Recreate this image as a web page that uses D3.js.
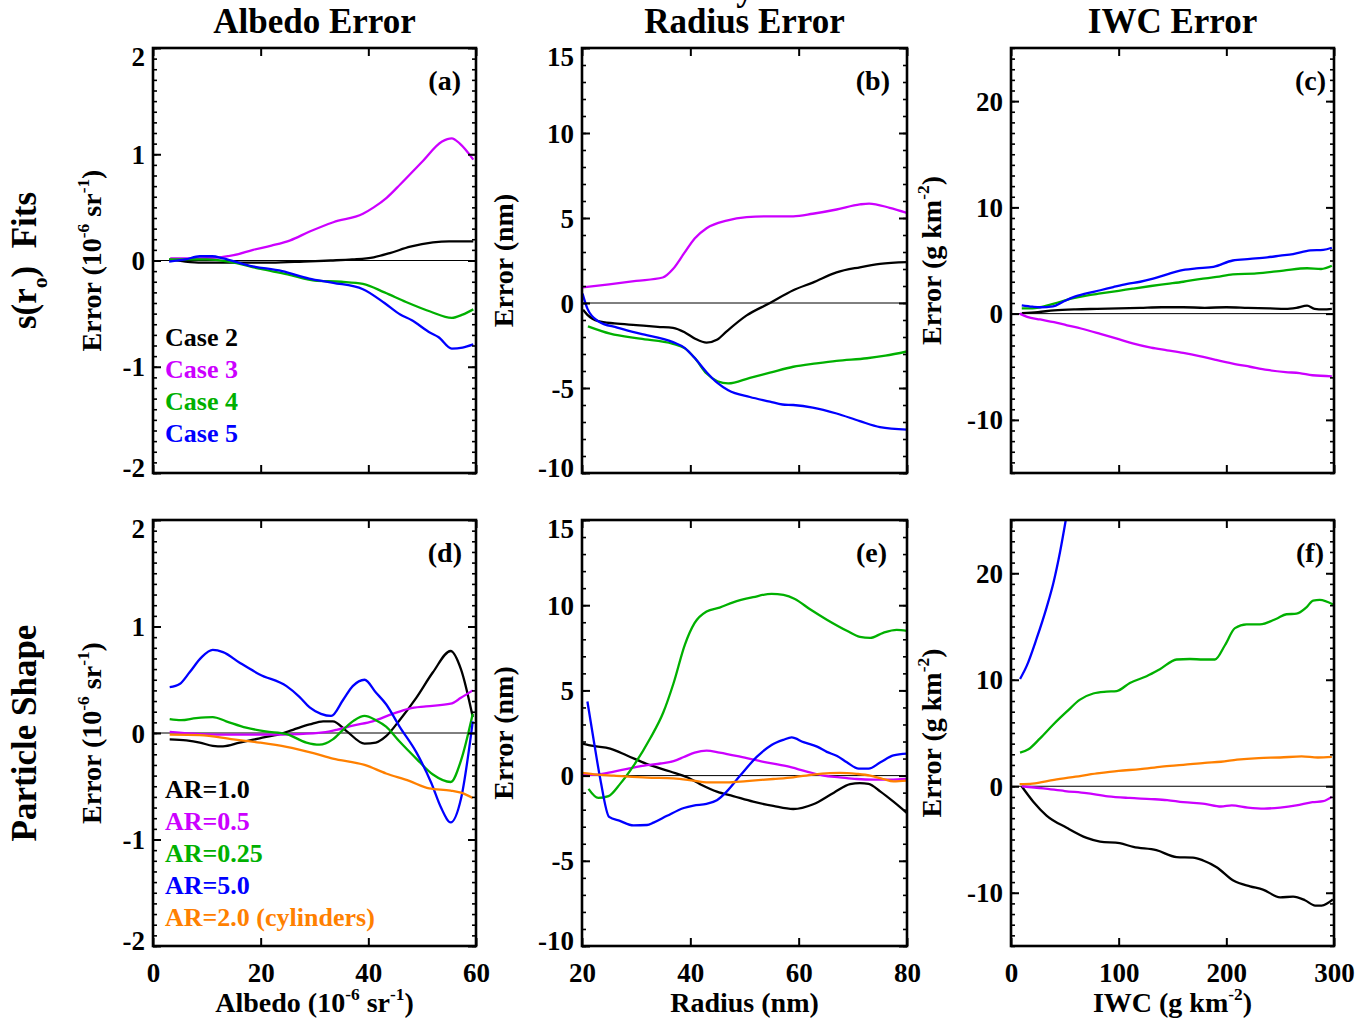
<!DOCTYPE html>
<html>
<head>
<meta charset="utf-8">
<script src="https://cdn.jsdelivr.net/npm/d3@7"></script>
<style>
  html, body { margin: 0; padding: 0; background: #fff; }
  svg { display: block; }
</style>
</head>
<body>
<div id="chart"></div>
<script>
// ---- values ----
const colTitles = ["Albedo Error", "Radius Error", "IWC Error"];
const panelTags = ["(a)", "(b)", "(c)", "(d)", "(e)", "(f)"];
const caseLabels = ["Case 2", "Case 3", "Case 4", "Case 5"];
const shapeLabels = ["AR=1.0", "AR=0.5", "AR=0.25", "AR=5.0", "AR=2.0 (cylinders)"];
const seriesColors = ["#000000", "#cc00ff", "#00b000", "#0000ff", "#ff8000"];

const xDomains = [[0, 60], [20, 80], [0, 300]];
const yDomains = [[-2, 2], [-10, 15], [-15, 25]];
const xTickValues = [[0, 20, 40, 60], [20, 40, 60, 80], [0, 100, 200, 300]];
const yTickValues = [[-2, -1, 0, 1, 2], [-10, -5, 0, 5, 10, 15], [-10, 0, 10, 20]];
const yMinorStep = [0.1, 1, 1];

// (a) albedo error, s(r0) fits
const aCase2 = [[3,0.01],[6,-0.01],[9,-0.02],[15,-0.02],[22,-0.02],[28,-0.01],[33,0.0],[37,0.01],[41,0.03],[44,0.07],[47.8,0.13],[52,0.17],[55,0.18],[59.5,0.18]];
const aCase3 = [[3.2,0.02],[8,0.02],[12.4,0.03],[15,0.05],[18.6,0.1],[22,0.14],[25.5,0.19],[29,0.27],[33.5,0.36],[39,0.44],[41,0.5],[43.4,0.59],[46,0.72],[50,0.93],[53.7,1.12],[55.5,1.15],[57,1.1],[59.5,0.95]];
const aCase4 = [[3,0.01],[7,0.01],[10,0.01],[14,-0.01],[20,-0.08],[25,-0.13],[30,-0.19],[35,-0.2],[39,-0.22],[43,-0.3],[47,-0.39],[51.5,-0.48],[55.5,-0.54],[57.5,-0.51],[59.5,-0.46]];
const aCase5 = [[3,-0.01],[6,0.01],[8.7,0.04],[11,0.04],[13,0.02],[18,-0.05],[24,-0.1],[29,-0.17],[33.5,-0.21],[39,-0.27],[43,-0.4],[46,-0.51],[48,-0.56],[51.5,-0.68],[53,-0.72],[55.5,-0.83],[57.5,-0.82],[59.5,-0.79]];

// (b) radius error, s(r0) fits
const bCase2 = [[20.2,-0.4],[21,-0.7],[23,-1.07],[26,-1.2],[30,-1.3],[34,-1.4],[36.8,-1.46],[39,-1.73],[40.9,-2.1],[43,-2.33],[45,-2.15],[46.7,-1.67],[50.4,-0.73],[54.7,0],[59,0.75],[62.6,1.2],[67,1.8],[71.3,2.1],[75,2.3],[80,2.4]];
const bCase3 = [[20.1,0.92],[25,1.1],[30,1.3],[34.9,1.5],[36.8,2.0],[38.8,2.9],[40.8,3.8],[43,4.4],[46.7,4.85],[50.4,5.05],[55,5.1],[59,5.1],[62.6,5.25],[67,5.5],[71.3,5.8],[73,5.85],[76.8,5.6],[80,5.3]];
const bCase4 = [[21.1,-1.37],[25.2,-1.8],[30.7,-2.1],[36.8,-2.4],[39,-2.67],[40.9,-3.27],[43,-4.15],[45,-4.6],[47,-4.73],[51,-4.4],[54.7,-4.1],[59,-3.75],[63.3,-3.55],[67,-3.4],[72.6,-3.25],[76,-3.1],[80,-2.85]];
const bCase5 = [[20.1,0.55],[21,-0.33],[23,-1.07],[26.5,-1.45],[30.7,-1.8],[36.8,-2.3],[39,-2.65],[40.9,-3.27],[43,-4.07],[45,-4.7],[47,-5.13],[51,-5.53],[54.7,-5.8],[57,-5.97],[59,-6.0],[62.6,-6.15],[67,-6.5],[71.3,-6.95],[75,-7.3],[80,-7.45]];

// (c) IWC error, s(r0) fits
const cCase2 = [[10,0.05],[25,0.15],[40,0.3],[60,0.4],[80,0.45],[100,0.5],[120,0.55],[140,0.6],[160,0.6],[180,0.55],[200,0.6],[220,0.55],[240,0.5],[255,0.45],[265,0.55],[275,0.75],[282,0.45],[290,0.4],[298,0.45]];
const cCase3 = [[8,0],[15,-0.3],[27,-0.55],[40,-0.8],[52,-1.1],[65,-1.4],[83,-1.9],[100,-2.4],[113,-2.8],[130,-3.2],[145,-3.45],[160,-3.7],[175,-4.0],[190,-4.35],[206,-4.7],[222,-5.0],[238,-5.3],[255,-5.5],[268,-5.6],[280,-5.8],[298,-5.9]];
const cCase4 = [[10,0.5],[20,0.5],[27,0.6],[40,0.95],[58,1.45],[70,1.7],[83,1.9],[100,2.15],[113,2.35],[130,2.6],[145,2.8],[160,3.0],[175,3.25],[191,3.45],[206,3.7],[228,3.78],[253,4.05],[275,4.27],[288,4.2],[298,4.5]];
const cCase5 = [[10,0.78],[20,0.65],[27,0.6],[39,0.68],[48,1.1],[58,1.55],[70,1.9],[83,2.2],[95,2.5],[108,2.8],[120,3.0],[132,3.3],[145,3.7],[157,4.05],[172,4.25],[188,4.4],[206,5.0],[222,5.15],[238,5.3],[250,5.45],[262,5.6],[278,5.95],[290,6.0],[298,6.2]];

// (d) albedo error, particle shape
const dAR10 = [[3.1,-0.06],[6.2,-0.07],[8.7,-0.09],[11.1,-0.12],[13,-0.125],[16.1,-0.09],[19.8,-0.05],[23.5,-0.01],[26,0.03],[29.1,0.08],[31.6,0.11],[33.4,0.11],[35.9,0.02],[39.3,-0.1],[41.4,-0.09],[43.3,-0.03],[45.8,0.12],[48.9,0.33],[52,0.57],[55.3,0.77],[57.2,0.6],[59.4,0.15]];
const dAR05 = [[3.1,0.01],[8.7,-0.01],[14.9,-0.015],[21.1,-0.015],[27.2,-0.01],[31.6,0.005],[34.1,0.03],[37.1,0.07],[40.8,0.11],[44.5,0.18],[47.6,0.23],[50.7,0.25],[55.3,0.275],[57.2,0.33],[59.4,0.4]];
const dAR025 = [[3.1,0.13],[5.2,0.12],[8,0.14],[11.1,0.15],[13.6,0.11],[17.3,0.05],[20.9,0.015],[24.8,-0.01],[28.5,-0.09],[30.9,-0.11],[33.4,-0.06],[35.3,0.03],[37.4,0.12],[39.3,0.16],[41.4,0.12],[43.3,0.06],[45.8,-0.08],[48.9,-0.24],[52,-0.39],[55.3,-0.46],[57.2,-0.26],[59.4,0.18]];
const dAR50 = [[3.1,0.43],[4.95,0.46],[6.8,0.57],[9,0.71],[11.1,0.78],[13,0.76],[16.1,0.66],[19.8,0.55],[24.8,0.44],[27.2,0.34],[29.1,0.24],[31.2,0.18],[33.1,0.16],[35.3,0.31],[37.1,0.44],[39.3,0.5],[41.4,0.38],[43.3,0.27],[45.8,0.06],[48.9,-0.18],[51.7,-0.47],[53.5,-0.7],[55.3,-0.84],[57.2,-0.62],[59.4,0.11]];
const dAR20c = [[3.1,-0.015],[8.7,-0.02],[14.9,-0.06],[19.8,-0.09],[24.8,-0.13],[29.8,-0.19],[33.4,-0.24],[39.3,-0.3],[43.3,-0.38],[47.6,-0.45],[51.3,-0.52],[55.3,-0.54],[57.2,-0.56],[59.4,-0.61]];

// (e) radius error, particle shape
const eAR10 = [[20,1.88],[22.1,1.74],[25.2,1.58],[28.3,1.18],[31.9,0.69],[36.3,0.24],[39.4,-0.1],[41.8,-0.5],[44.9,-0.94],[47.9,-1.2],[51.6,-1.53],[55.3,-1.78],[59,-1.96],[62.7,-1.68],[66.5,-1.0],[69.5,-0.5],[71.3,-0.44],[72.9,-0.48],[75.1,-0.94],[77.5,-1.53],[80,-2.2]];
const eAR05 = [[20,0.04],[22.8,0.06],[25.9,0.24],[29,0.44],[32,0.61],[34.5,0.71],[36.9,0.85],[38.8,1.09],[40.8,1.35],[43,1.47],[45.4,1.35],[49.2,1.11],[53.5,0.81],[57.8,0.55],[61.5,0.24],[64.6,0],[67.6,-0.1],[70.7,-0.2],[73.8,-0.24],[76.9,-0.24],[80,-0.2]];
const eAR025 = [[21.2,-0.78],[23,-1.31],[24.9,-1.2],[27,-0.5],[29.5,0.57],[32.6,2.19],[35,3.7],[36.9,5.42],[39,7.69],[40.8,8.96],[43,9.63],[45.4,9.86],[47.9,10.17],[51.6,10.47],[55,10.67],[57.2,10.6],[59.3,10.36],[62.1,9.76],[65.2,9.15],[68.9,8.5],[71.3,8.14],[73.2,8.08],[75.6,8.38],[78.1,8.55],[80,8.49]];
const eAR50 = [[21,4.35],[22.1,2.19],[23.4,-0.24],[25,-2.42],[27,-2.66],[29.5,-2.92],[32,-2.9],[33.2,-2.76],[35.7,-2.36],[38.8,-1.9],[40.6,-1.76],[43,-1.66],[44.9,-1.45],[46.7,-0.94],[49.2,0],[52.3,1.11],[55,1.8],[57.2,2.1],[58.7,2.24],[60.9,1.96],[63.4,1.7],[65.2,1.39],[67.1,1.15],[68.9,0.78],[71.1,0.41],[72.9,0.41],[75.1,0.78],[77.5,1.19],[80,1.29]];
const eAR20c = [[20,0.16],[22.8,0.06],[25.9,0],[32,-0.12],[36.9,-0.16],[40.6,-0.3],[43,-0.4],[46.7,-0.4],[50.4,-0.32],[55.3,-0.2],[59,-0.1],[62.7,0.06],[65.8,0.14],[67.6,0.16],[70.7,0.1],[73.2,0],[75.6,-0.2],[77.5,-0.34],[80,-0.3]];

// (f) IWC error, particle shape
const fAR10 = [[9.9,0],[20.7,-1.45],[33,-2.75],[51.7,-3.9],[70.3,-4.85],[82.7,-5.2],[101,-5.35],[113.6,-5.7],[135,-6.0],[153.8,-6.65],[169,-6.7],[178.5,-6.97],[191,-7.6],[206.5,-8.85],[222,-9.4],[234,-9.7],[250,-10.43],[262,-10.37],[273,-10.7],[282.5,-11.2],[288.6,-11.2],[299,-10.63]];
const fAR05 = [[10,0],[30,-0.2],[50,-0.45],[70,-0.65],[90,-0.95],[110,-1.1],[130,-1.2],[145,-1.3],[160,-1.5],[180,-1.65],[195,-1.9],[205,-1.8],[220,-2.0],[235,-2.1],[250,-2.0],[265,-1.8],[280,-1.5],[290,-1.4],[298,-1.0]];
const fAR025 = [[8.4,3.15],[16.2,3.47],[27,4.5],[39.3,5.8],[51.7,7.0],[64.1,8.13],[76.4,8.71],[88.8,8.88],[98.1,8.94],[110.4,9.7],[125.9,10.33],[138.3,10.99],[153.8,11.9],[166.2,11.95],[178.5,11.9],[189.4,11.9],[198.7,13.24],[208,14.85],[218.8,15.2],[231.2,15.2],[246.6,15.73],[255.9,16.15],[265.2,16.2],[274.4,16.8],[280.6,17.44],[286.8,17.5],[299.2,17.06]];
const fAR50 = [[8.4,10.07],[14.6,11.3],[23.9,13.9],[33.1,16.8],[39.3,19.06],[45.5,21.97],[50.8,24.95]];
const fAR20c = [[8,0.2],[20,0.25],[40,0.6],[60,0.9],[80,1.2],[100,1.45],[120,1.6],[140,1.85],[160,2.0],[180,2.2],[195,2.3],[210,2.5],[230,2.65],[250,2.7],[270,2.8],[285,2.7],[298,2.75]];

const panelSeries = [
  [aCase2, aCase3, aCase4, aCase5],
  [bCase2, bCase3, bCase4, bCase5],
  [cCase2, cCase3, cCase4, cCase5],
  [dAR10, dAR05, dAR025, dAR50, dAR20c],
  [eAR10, eAR05, eAR025, eAR50, eAR20c],
  [fAR10, fAR05, fAR025, fAR50, fAR20c]
];

// rich text helper: parts like {t, sup} / {t, sub}
function richText(sel, parts, size) {
  let shift = 0;
  parts.forEach(p => {
    const target = p.sup ? -0.42 * size : p.sub ? 0.3 * size : 0;
    const ts = sel.append("tspan").text(p.t).attr("dy", target - shift);
    if (p.sup || p.sub) ts.attr("font-size", size * 0.62);
    shift = target;
  });
}

const albedoUnit = [{ t: " (10" }, { t: "-6", sup: true }, { t: " sr" }, { t: "-1", sup: true }, { t: ")" }];
const iwcUnit = [{ t: " (g km" }, { t: "-2", sup: true }, { t: ")" }];
const yTitles = [[{ t: "Error" }, ...albedoUnit], [{ t: "Error (nm)" }], [{ t: "Error" }, ...iwcUnit]];
const xTitles = [[{ t: "Albedo" }, ...albedoUnit], [{ t: "Radius (nm)" }], [{ t: "IWC" }, ...iwcUnit]];
const rowTitles = [[{ t: "s(r" }, { t: "o", sub: true }, { t: ")\u00a0\u00a0Fits" }], [{ t: "Particle Shape" }]];

class Chart {
  constructor() {
    const attrs = {
      container: "#chart",
      svgWidth: 1359,
      svgHeight: 1020,
      defaultFont: "'Liberation Serif', 'Times New Roman', Times, serif",
      colLeft: [153, 582, 1011],
      colRight: [476, 907, 1334],
      rowTop: [48, 520],
      rowBottom: [473, 946],
      yTitleGap: [52, 69, 70],
      tagGap: [15, 17, 8, 14, 20, 10],
      legendTop: [346, 798],
      tickFont: 27,
      titleFont: 35,
      rowFont: 35,
      labelFont: 28,
      legendFont: 26
    };
    this.getState = () => attrs;
    this.setState = (d) => Object.assign(attrs, d);
  }

  render() {
    this.drawSvg();
    this.drawHeaders();
    this.drawPanels();
    return this;
  }

  drawSvg() {
    const { container, svgWidth, svgHeight, defaultFont } = this.getState();
    const svg = d3.select(container).append("svg")
      .attr("width", svgWidth)
      .attr("height", svgHeight)
      .attr("font-family", defaultFont)
      .attr("font-weight", "bold")
      .attr("fill", "#000");
    this.setState({ svg });
  }

  drawHeaders() {
    const { svg, colLeft, colRight, rowTop, rowBottom, titleFont, rowFont } = this.getState();

    // column titles
    colTitles.forEach((t, i) => {
      svg.append("text")
        .attr("x", (colLeft[i] + colRight[i]) / 2)
        .attr("y", 33)
        .attr("text-anchor", "middle")
        .attr("font-size", titleFont)
        .text(t);
    });
    // descender of a title cut off above the figure
    svg.append("text").attr("x", 745).attr("y", 0).attr("text-anchor", "middle")
      .attr("font-size", titleFont).text("y");

    // row titles
    rowTitles.forEach((parts, r) => {
      const cy = (rowTop[r] + rowBottom[r]) / 2;
      const t = svg.append("text")
        .attr("transform", `translate(36,${cy}) rotate(-90)`)
        .attr("text-anchor", "middle")
        .attr("font-size", rowFont);
      richText(t, parts, rowFont);
    });
  }

  drawPanels() {
    const st = this.getState();
    const { svg, colLeft, colRight, rowTop, rowBottom } = st;
    const fmt = d => String(d);

    panelSeries.forEach((series, i) => {
      const col = i % 3, row = Math.floor(i / 3);
      const left = colLeft[col], right = colRight[col];
      const top = rowTop[row], bottom = rowBottom[row];
      const [yMin, yMax] = yDomains[col];

      const x = d3.scaleLinear().domain(xDomains[col]).range([left, right]);
      const y = d3.scaleLinear().domain(yDomains[col]).range([bottom, top]);

      const g = svg.append("g").attr("class", "panel panel-" + i);

      g.append("clipPath").attr("id", "clip" + i)
        .append("rect")
        .attr("x", left).attr("y", top)
        .attr("width", right - left).attr("height", bottom - top);

      // zero line
      g.append("line")
        .attr("x1", left).attr("x2", right)
        .attr("y1", y(0)).attr("y2", y(0))
        .attr("stroke", "#000").attr("stroke-width", 1);

      const line = d3.line()
        .x(d => x(d[0]))
        .y(d => y(d[1]))
        .curve(d3.curveMonotoneX);

      g.append("g").attr("clip-path", `url(#clip${i})`)
        .selectAll("path")
        .data(series)
        .join("path")
        .attr("fill", "none")
        .attr("stroke", (d, k) => seriesColors[k])
        .attr("stroke-width", 2.3)
        .attr("stroke-linejoin", "round")
        .attr("d", line);

      // axes
      const styleAxis = (s, w) => {
        s.select(".domain").remove();
        s.selectAll(".tick line").attr("stroke", "#000").attr("stroke-width", w);
        s.selectAll("text").attr("font-family", st.defaultFont).attr("font-weight", "bold")
          .attr("font-size", st.tickFont).attr("fill", "#000");
      };
      const nMinor = Math.round((yMax - yMin) / yMinorStep[col]);
      const minorVals = d3.range(nMinor + 1).map(k => yMin + k * yMinorStep[col]);

      g.append("g").attr("transform", `translate(${left},0)`)
        .call(d3.axisLeft(y).tickValues(minorVals).tickSize(-4).tickSizeOuter(0).tickFormat(""))
        .call(s => styleAxis(s, 1.6));
      g.append("g").attr("transform", `translate(${right},0)`)
        .call(d3.axisRight(y).tickValues(minorVals).tickSize(-4).tickSizeOuter(0).tickFormat(""))
        .call(s => styleAxis(s, 1.6));

      g.append("g").attr("transform", `translate(${left},0)`)
        .call(d3.axisLeft(y).tickValues(yTickValues[col]).tickSize(-8).tickSizeOuter(0).tickPadding(8).tickFormat(fmt))
        .call(s => styleAxis(s, 2))
        .call(s => s.selectAll("text").attr("dy", d => d === yMax ? 17 : d === yMin ? 3 : 9));
      g.append("g").attr("transform", `translate(${right},0)`)
        .call(d3.axisRight(y).tickValues(yTickValues[col]).tickSize(-8).tickSizeOuter(0).tickFormat(""))
        .call(s => styleAxis(s, 2));

      g.append("g").attr("transform", `translate(0,${top})`)
        .call(d3.axisTop(x).tickValues(xTickValues[col]).tickSize(-8).tickSizeOuter(0).tickFormat(""))
        .call(s => styleAxis(s, 2));
      const xb = d3.axisBottom(x).tickValues(xTickValues[col]).tickSize(-8).tickSizeOuter(0)
        .tickFormat(row === 0 ? "" : fmt);
      g.append("g").attr("transform", `translate(0,${bottom})`)
        .call(xb)
        .call(s => styleAxis(s, 2))
        .call(s => s.selectAll("text").attr("y", 35.5).attr("dy", 0));

      // frame
      g.append("rect")
        .attr("x", left).attr("y", top)
        .attr("width", right - left).attr("height", bottom - top)
        .attr("fill", "none").attr("stroke", "#000").attr("stroke-width", 2.6);

      // panel tag
      g.append("text")
        .attr("x", right - st.tagGap[i]).attr("y", top + 42)
        .attr("text-anchor", "end")
        .attr("font-size", st.labelFont)
        .text(panelTags[i]);

      // y title
      const yt = g.append("text")
        .attr("transform", `translate(${left - st.yTitleGap[col]},${(top + bottom) / 2}) rotate(-90)`)
        .attr("text-anchor", "middle")
        .attr("font-size", st.labelFont);
      richText(yt, yTitles[col], st.labelFont);

      // x title on bottom row
      if (row === 1) {
        const xt = g.append("text")
          .attr("x", (left + right) / 2).attr("y", 1012)
          .attr("text-anchor", "middle")
          .attr("font-size", st.labelFont);
        richText(xt, xTitles[col], st.labelFont);
      }

      // legends in the first column
      if (col === 0) {
        const labels = row === 0 ? caseLabels : shapeLabels;
        g.append("g").selectAll("text")
          .data(labels)
          .join("text")
          .attr("x", 165)
          .attr("y", (d, k) => st.legendTop[row] + k * 32)
          .attr("font-size", st.legendFont)
          .attr("fill", (d, k) => seriesColors[k])
          .text(d => d);
      }
    });
  }
}

new Chart().render();
</script>
</body>
</html>
